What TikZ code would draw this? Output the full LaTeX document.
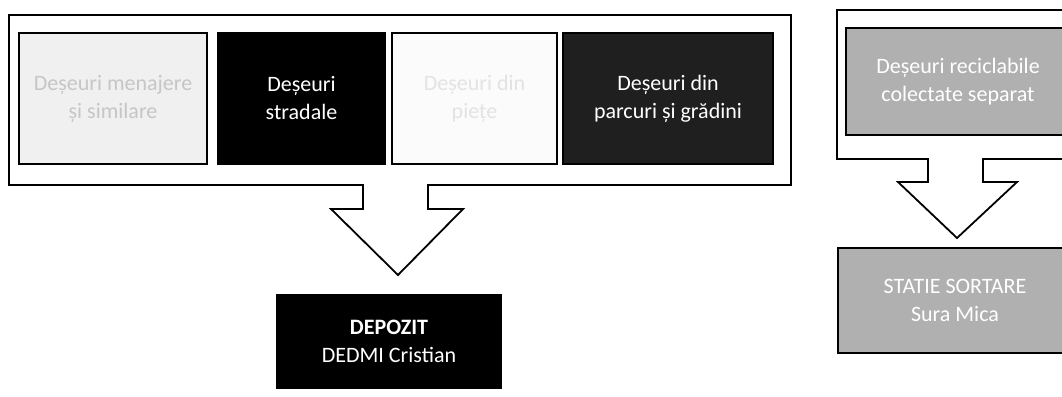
\documentclass[tikz,border=0pt]{standalone}
\usepackage{fontspec}
\setmainfont{Carlito}
\begin{document}
\begin{tikzpicture}[x=1pt,y=-1pt,
  outline/.style={draw=black,line width=1.8pt,fill=white,line join=miter},
  wbox/.style={draw=black,line width=1.5pt,rectangle,inner sep=0pt,align=center,
     font=\fontsize{22}{28}\selectfont},
  lightbox/.style={wbox,fill=gray!12,text=gray!45},
  blackbox/.style={wbox,fill=black,text=white},
  palebox/.style={wbox,fill=gray!3,text=gray!22},
  darkbox/.style={wbox,fill=black!88,text=white},
  midbox/.style={wbox,fill=gray!62,text=white}]
\clip (0,0) rectangle (1062,396);
\useasboundingbox (0,0) rectangle (1062,396);
\fill[white] (0,0) rectangle (1062,396);
% left container with block arrow
\draw[outline] (9,15) -- (791,15) -- (791,185) -- (428,185) -- (428,209) -- (463,209)
  -- (398,275) -- (331,209) -- (363,209) -- (363,185) -- (9,185) -- cycle;
% right container with block arrow
\draw[outline] (837,10) -- (1085,10) -- (1085,159) -- (983,159) -- (983,182) -- (1017,182)
  -- (957,238) -- (898,182) -- (928,182) -- (928,159) -- (837,159) -- cycle;
% boxes
\node[lightbox,minimum width=188pt,minimum height=131pt] (menaj) at (113,98.5)
  {Deșeuri menajere\\și similare};
\node[blackbox,minimum width=167pt,minimum height=131pt] (strad) at (301.5,98.5)
  {Deșeuri\\stradale};
\node[palebox,minimum width=165pt,minimum height=131pt] (piete) at (474.5,98.5)
  {Deșeuri din\\piețe};
\node[darkbox,minimum width=210pt,minimum height=131pt] (parc) at (668,98.5)
  {Deșeuri din\\parcuri și grădini};
\node[blackbox,minimum width=224pt,minimum height=93pt] (depozit) at (389,341.5)
  {\textbf{DEPOZIT}\\DEDMI Cristian};
\node[midbox,minimum width=224pt,minimum height=107pt] (recic) at (958,81.5)
  {Deșeuri reciclabile\\colectate separat};
\node[midbox,minimum width=234pt,minimum height=105pt] (statie) at (955,300.5)
  {STATIE SORTARE\\Sura Mica};
\end{tikzpicture}
\end{document}
